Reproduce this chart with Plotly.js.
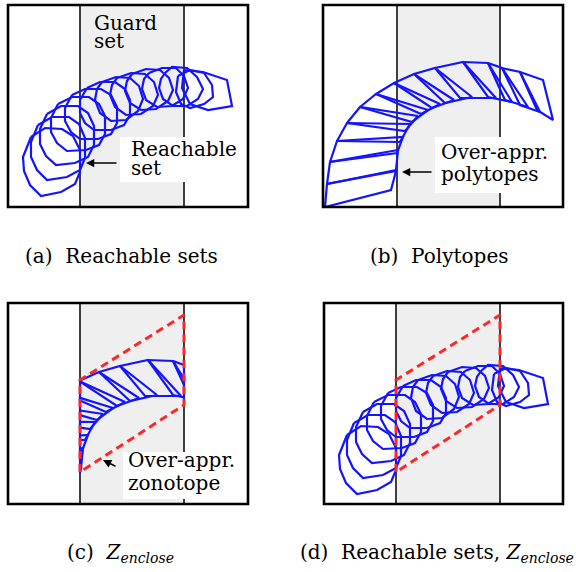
<!DOCTYPE html>
<html><head><meta charset="utf-8">
<script src="https://cdn.plot.ly/plotly-3.0.1.min.js"></script>
<style>html,body{margin:0;padding:0;background:#fff}#chart{width:576px;height:572px}</style>
</head><body><div id="chart"></div>
<script>
// ---- data (panel frame: x right, y down, in px of panel (a)) ----
const reachSets = [
  [[31,137],[45,128],[62,129],[73,136],[80,150],[80,172],[75,184],[61,192],[41,196],[30,185],[24,171],[23,157]],
  [[38,125],[52,117],[69,117],[79,124],[85,138],[85,158],[80,170],[67,177],[47,180],[37,170],[31,157],[31,142]],
  [[47,114],[61,106],[78,106],[88,113],[94,126],[94,145],[88,157],[75,163],[56,165],[46,156],[40,144],[40,129]],
  [[58,104],[72,97],[89,97],[99,104],[105,116],[105,134],[99,145],[86,150],[67,151],[57,143],[51,132],[51,118]],
  [[72,95],[85,89],[101,89],[111,95],[117,107],[117,123],[111,134],[98,139],[80,139],[71,132],[65,121],[65,108]],
  [[87,88],[100,82],[115,82],[125,89],[130,100],[130,115],[124,125],[111,130],[94,130],[85,123],[80,113],[80,100]],
  [[102,82],[116,77],[130,78],[139,86],[143,99],[138,111],[126,120],[111,121],[100,113],[95,100],[97,89]],
  [[117,78],[131,73],[145,74],[154,82],[158,95],[153,106],[141,114],[126,115],[115,107],[110,95],[112,85]],
  [[132,74],[146,69],[160,70],[169,78],[173,90],[168,101],[156,109],[141,110],[130,103],[125,91],[127,81]],
  [[149,73],[162,68],[176,68],[184,76],[188,88],[183,99],[172,106],[157,107],[146,100],[142,89],[144,79]],
  [[165,73],[172,67],[187,68],[197,77],[203,89],[198,99],[187,106],[173,106],[163,99],[159,88],[161,79]],
  [[178,76],[190,70],[204,73],[212,85],[213,97],[204,104],[190,108],[181,104],[176,92]],
  [[184,70],[203,72],[227,80],[232,106],[208,110],[190,104],[182,88]]
];
// polytope vertices in panel (b) frame: outer corners, inner (trailing) corners, inner tips
const polyOuter = [[325,207],[327,184],[330,162],[337,141],[347,123],[360,107],[376,94],[394,83],[414,74],[435,68],[463,62],[488,63],[502,68],[520,72],[543,80]];
const polyInner = [[391,190],[396,170],[397,153],[400,142],[405,131],[412,122],[421,114],[432,108],[445,103],[460,98],[488,97],[505,100],[520,105],[537,110]];
const polyTip   = [[396,171],[398,150],[403,137],[410,124],[418,116],[428,110],[440,104],[454,100],[472,97],[496,98],[512,102],[528,107],[540,112],[553,120]];
const zonotope = [[80,174],[80,82],[184,17],[184,107]];
const guardA = [80,184];
const guardB = [397,500];
const shiftB = 315;
const captions = ['(a)\u00a0 Reachable sets', '(b)\u00a0 Polytopes', '(c)\u00a0 <i>Z</i><sub><i>enclose</i></sub>', '(d)\u00a0 Reachable sets, <i>Z</i><sub><i>enclose</i></sub>'];

// ---- build ----
function closedXY(polys){
  const x=[],y=[];
  polys.forEach(p=>{p.forEach(v=>{x.push(v[0]);y.push(v[1]);}); x.push(p[0][0]); y.push(p[0][1]); x.push(null); y.push(null);});
  return {x,y};
}
const quads=[];
for(let k=0;k<polyTip.length;k++) quads.push([polyOuter[k],polyInner[k],polyTip[k],polyOuter[k+1]]);
function clipHalf(poly, inside, cut){
  const out=[];
  for(let i=0;i<poly.length;i++){
    const a=poly[i], b=poly[(i+1)%poly.length];
    const ia=inside(a), ib=inside(b);
    if(ia) out.push(a);
    if(ia!==ib) out.push(cut(a,b));
  }
  return out;
}
function cutX(x0){ return (a,b)=>{const t=(x0-a[0])/(b[0]-a[0]); return [x0, a[1]+t*(b[1]-a[1])];}; }
const clipped = quads.map(q=>q.map(v=>[v[0]-shiftB,v[1]]))
  .map(q=>clipHalf(clipHalf(q,p=>p[0]>=guardA[0],cutX(guardA[0])),p=>p[0]<=guardA[1],cutX(guardA[1])))
  .filter(q=>q.length>=3);

const blue={color:'rgb(20,20,255)',width:2.2};
const red={color:'rgb(255,38,38)',width:3,dash:'8px,5px'};
function tr(polys,xa,ya,line){const d=closedXY(polys);return {x:d.x,y:d.y,xaxis:xa,yaxis:ya,type:'scatter',mode:'lines',line:line,hoverinfo:'skip',showlegend:false,connectgaps:false};}
const data=[
  tr(reachSets,'x','y',blue),
  tr(quads,'x2','y2',blue),
  tr(clipped,'x3','y3',blue),
  tr([zonotope],'x3','y3',red),
  tr(reachSets,'x4','y4',blue),
  tr([zonotope],'x4','y4',red)
];
function ax(domain,range){return {domain:domain,range:range,autorange:false,showgrid:false,zeroline:false,showticklabels:false,ticks:'',showline:false,fixedrange:true};}
const W=576,H=572;
const FAM='DejaVu Serif';
const layout={
  width:W,height:H,margin:{l:0,r:0,t:0,b:0},paper_bgcolor:'#fff',plot_bgcolor:'rgba(0,0,0,0)',showlegend:false,
  font:{family:FAM,size:20,color:'#000'},
  xaxis:ax([8/W,248/W],[8,248]), yaxis:ax([1-207/H,1-5/H],[207,5]),
  xaxis2:ax([323/W,563/W],[323,563]), yaxis2:ax([1-207/H,1-5/H],[207,5]),
  xaxis3:ax([8/W,248/W],[8,248]), yaxis3:ax([1-504/H,1-303/H],[206,5]),
  xaxis4:ax([324/W,563/W],[8,247]), yaxis4:ax([1-504/H,1-303/H],[206,5]),
  shapes:[],annotations:[]
};
const panels=[['x','y',guardA],['x2','y2',guardB],['x3','y3',guardA],['x4','y4',guardA]];
panels.forEach(p=>{
  layout.shapes.push({type:'rect',xref:p[0],yref:p[1]+' domain',x0:p[2][0],x1:p[2][1],y0:0,y1:1,fillcolor:'#efefef',line:{width:0},layer:'below'});
  p[2].forEach(g=>layout.shapes.push({type:'line',xref:p[0],yref:p[1]+' domain',x0:g,x1:g,y0:0,y1:1,line:{color:'#2b2b2b',width:1.8},layer:'below'}));
});
// white label boxes
layout.shapes.push({type:'rect',xref:'x',yref:'y',x0:120,x1:234,y0:137,y1:182,fillcolor:'#fff',line:{width:0},layer:'below'});
layout.shapes.push({type:'rect',xref:'x2',yref:'y2',x0:435,x1:552,y0:137,y1:193,fillcolor:'#fff',line:{width:0},layer:'below'});
layout.shapes.push({type:'rect',xref:'x3',yref:'y3',x0:123,x1:236,y0:154,y1:201,fillcolor:'#fff',line:{width:0},layer:'below'});
panels.forEach(p=>{
  layout.shapes.push({type:'rect',xref:p[0]+' domain',yref:p[1]+' domain',x0:0,x1:1,y0:0,y1:1,line:{color:'#000',width:2.6},layer:'above'});
});
function F(){return {family:FAM,size:20,color:'#000'};}
function lab(xa,ya,x,y,t){layout.annotations.push({xref:xa,yref:ya,x:x,y:y,text:t,showarrow:false,xanchor:'left',yanchor:'middle',font:F()});}
lab('x','y',92,23,'Guard'); lab('x','y',92,41,'set');
lab('x','y',129,149,'Reachable'); lab('x','y',129,168,'set');
lab('x2','y2',439,152,'Over-appr.'); lab('x2','y2',439,174,'polytopes');
lab('x3','y3',126,162,'Over-appr.'); lab('x3','y3',126,185,'zonotope');
function arr(xa,ya,x,y,tx,ty){layout.annotations.push({xref:xa,yref:ya,axref:xa,ayref:ya,x:x,y:y,ax:tx,ay:ty,text:'',showarrow:true,arrowhead:2,arrowsize:1.1,arrowwidth:1.5,arrowcolor:'#000',standoff:0,startstandoff:0});}
arr('x','y',86,163,118,163);
arr('x2','y2',402,172,433,172);
arr('x3','y3',103,162,117,169);
const capPos=[[121,256],[439,256],[120,553],[437,553]];
captions.forEach((c,i)=>layout.annotations.push({xref:'paper',yref:'paper',x:capPos[i][0]/W,y:1-capPos[i][1]/H,text:c,showarrow:false,xanchor:'center',yanchor:'middle',font:F()}));
Plotly.newPlot('chart',data,layout,{staticPlot:true,displayModeBar:false});
</script></body></html>
